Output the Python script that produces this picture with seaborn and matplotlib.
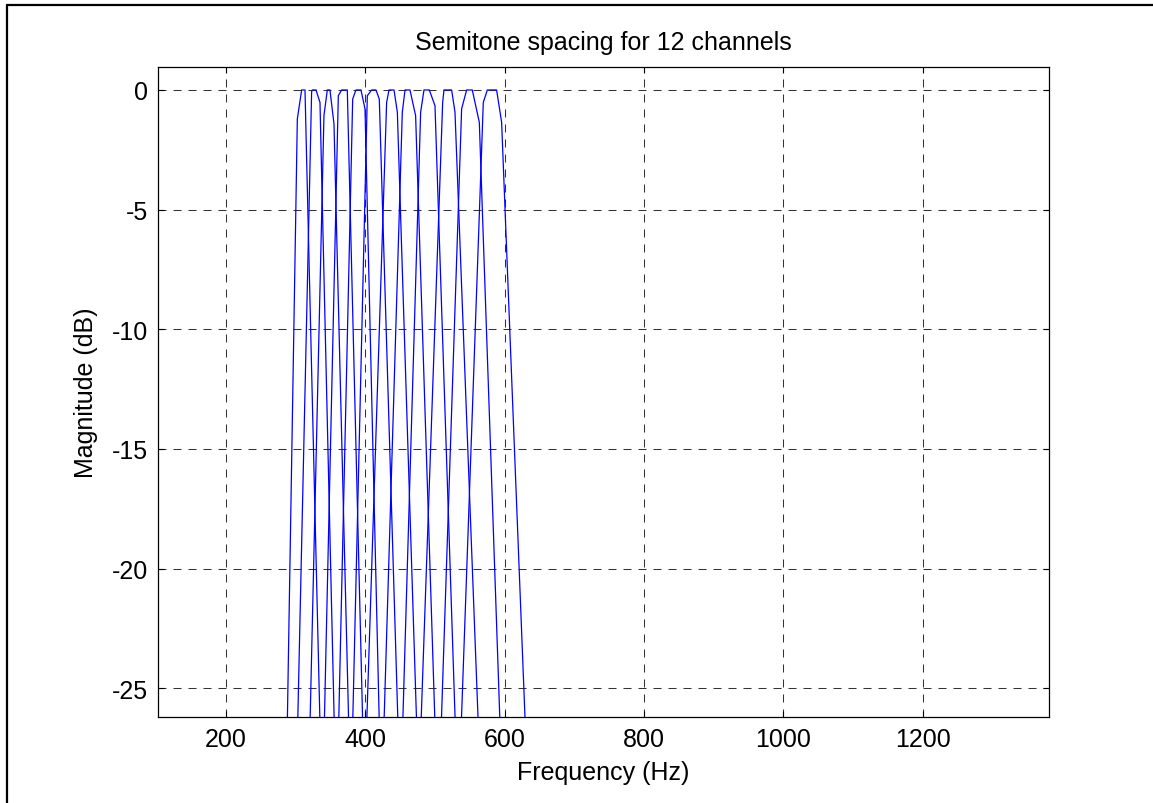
import numpy as np
import pandas as pd
import matplotlib.pyplot as plt
from matplotlib.lines import Line2D
import seaborn as sns

# Channel responses: (frequency Hz, magnitude dB) vertices
ch01_f = [288.1, 302.5, 308.7, 313.5, 335.0]
ch01_db = [-26.5, -1.21, 0.0, 0.0, -26.5]
ch02_f = [303.0, 323.0, 324.0, 329.3, 335.0, 355.5]
ch02_db = [-26.5, -0.07, 0.0, 0.0, -0.52, -26.5]
ch03_f = [320.7, 340.7, 345.5, 349.3, 355.1, 376.2]
ch03_db = [-26.5, -1.07, 0.0, 0.0, -1.42, -26.5]
ch04_f = [341.2, 361.3, 366.1, 374.2, 396.3]
ch04_db = [-26.5, -0.24, 0.0, 0.0, -26.5]
ch05_f = [361.8, 381.9, 386.6, 393.8, 399.6, 420.1]
ch05_db = [-26.5, -0.38, 0.0, 0.0, -0.79, -26.5]
ch06_f = [381.9, 402.9, 409.1, 415.3, 420.1, 446.9]
ch06_db = [-26.5, -0.24, 0.0, 0.0, -0.38, -26.5]
ch07_f = [402.0, 430.6, 434.0, 441.2, 446.0, 473.7]
ch07_db = [-26.5, -0.52, 0.0, 0.0, -0.93, -26.5]
ch08_f = [426.8, 453.1, 457.0, 464.1, 472.2, 500.0]
ch08_db = [-26.5, -0.93, 0.0, 0.0, -1.07, -26.5]
ch09_f = [453.7, 479.4, 484.2, 491.9, 500.0, 529.1]
ch09_db = [-26.5, -0.93, 0.0, 0.0, -0.66, -26.5]
ch10_f = [479.9, 511.0, 512.9, 523.9, 528.7, 562.1]
ch10_db = [-26.5, -0.52, 0.0, 0.0, -0.93, -26.5]
ch11_f = [509.0, 538.2, 545.4, 553.5, 563.6, 593.3]
ch11_db = [-26.5, -0.79, 0.0, 0.0, -1.35, -26.5]
ch12_f = [537.7, 569.3, 575.1, 588.4, 595.6, 629.5]
ch12_db = [-26.5, -0.52, 0.0, 0.0, -1.35, -26.5]

channels = [
    (ch01_f, ch01_db), (ch02_f, ch02_db), (ch03_f, ch03_db), (ch04_f, ch04_db),
    (ch05_f, ch05_db), (ch06_f, ch06_db), (ch07_f, ch07_db), (ch08_f, ch08_db),
    (ch09_f, ch09_db), (ch10_f, ch10_db), (ch11_f, ch11_db), (ch12_f, ch12_db),
]

x_ticks = [200, 400, 600, 800, 1000, 1200]
y_ticks = [0, -5, -10, -15, -20, -25]

rows = []
for i, (f, db) in enumerate(channels):
    for fi, di in zip(f, db):
        rows.append({"channel": i + 1, "freq": fi, "db": di})
df = pd.DataFrame(rows)

sns.set_style("ticks")
plt.rcParams["font.family"] = ["Liberation Sans", "DejaVu Sans"]
plt.rcParams["text.color"] = "black"
plt.rcParams["axes.labelcolor"] = "black"

fig = plt.figure(figsize=(11.53, 8.04), dpi=100)
ax = fig.add_axes([158 / 1153, 1 - 718 / 804, (1048.7 - 158) / 1153, (718 - 68) / 804])

sns.lineplot(data=df, x="freq", y="db", units="channel", estimator=None, sort=False,
             color="#0000ff", lw=0.9, ax=ax, legend=False)

ax.set_xlim(102.6, 1380.5)
ax.set_ylim(-26.2, 0.96)
ax.set_xticks(x_ticks)
ax.set_yticks(y_ticks)
ax.set_xticklabels([str(t) for t in x_ticks])
ax.set_yticklabels([str(t) for t in y_ticks])
ax.grid(True, color="black", linestyle=(0, (7.7, 6.7)), lw=0.75, alpha=0.8)
ax.tick_params(axis="both", which="both", direction="in", length=4, width=0.8,
               top=True, right=True, labelsize=18, pad=7, colors="black")
ax.tick_params(axis="x", pad=7.5)
for s in ax.spines.values():
    s.set_color("black")
    s.set_linewidth(0.9)

ax.set_title("Semitone spacing for 12 channels", fontsize=18, pad=13)
ax.set_xlabel("Frequency (Hz)", fontsize=18, labelpad=6)
ax.set_ylabel("Magnitude (dB)", fontsize=18, labelpad=10)

# outer frame drawn around the figure (only left and top edges visible)
fig.add_artist(Line2D([7 / 1153, 7 / 1153], [0, 1 - 6 / 804], transform=fig.transFigure,
                      color="black", lw=1.6))
fig.add_artist(Line2D([7 / 1153, 1], [1 - 6 / 804, 1 - 6 / 804], transform=fig.transFigure,
                      color="black", lw=1.6))

fig.savefig("out.png", dpi=100)
